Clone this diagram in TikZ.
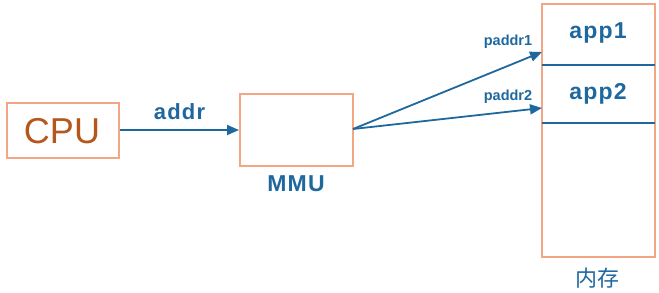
\documentclass[tikz,border=0pt]{standalone}
\usepackage{fontspec}
\setmainfont{Liberation Sans}
\newfontfamily\cjk{Noto Sans CJK SC}
\usetikzlibrary{arrows.meta}
\definecolor{boxc}{HTML}{F4A583}
\definecolor{bluec}{HTML}{1F689E}
\definecolor{cpuc}{HTML}{B5561C}
\newcommand{\lsp}{\kern1.2pt}
\begin{document}
\begin{tikzpicture}[x=1pt,y=-1pt,
  box/.style={draw=boxc,line width=2pt,inner sep=0pt,fill=white},
  lbl/.style={text=bluec,font=\bfseries,inner sep=0pt},
  arr/.style={draw=bluec,line width=1.8pt,-{Triangle[length=12pt,width=10pt]}},
  div/.style={draw=bluec,line width=2pt}]
\useasboundingbox (0,0) rectangle (659,292);
\node[box,minimum width=112pt,minimum height=55pt] (cpu) at (63,130) {};
\node[text=cpuc,font=\fontsize{36}{40}\selectfont,inner sep=0pt] (cputxt) at (62,131) {CPU};
\node[box,minimum width=113pt,minimum height=72pt] (mmu) at (296.5,130) {};
\node[lbl,font=\bfseries\fontsize{23}{26}\selectfont] (mmutxt) at (296,184) {M\lsp M\lsp U};
\node[box,minimum width=113pt,minimum height=253pt] (mem) at (598.5,130.5) {};
\coordinate (d1l) at (542,65); \coordinate (d1r) at (655,65);
\coordinate (d2l) at (542,123); \coordinate (d2r) at (655,123);
\draw[div] (d1l) -- (d1r);
\draw[div] (d2l) -- (d2r);
\node[lbl,font=\bfseries\fontsize{23}{26}\selectfont] (app1) at (598,33) {a\lsp p\lsp p\lsp 1};
\node[lbl,font=\bfseries\fontsize{23}{26}\selectfont] (app2) at (598,94) {a\lsp p\lsp p\lsp 2};
\node[text=bluec,font=\cjk\fontsize{22}{24}\selectfont,inner sep=0pt] (memtxt) at (597,278) {内存};
\coordinate (t1) at (542,52);
\coordinate (t2) at (542,108);
\coordinate (s) at (353,129);
\draw[arr] (cpu.east) -- (mmu.west) node[lbl,midway,above=9pt,font=\bfseries\fontsize{22}{24}\selectfont] (addr) {a\lsp d\lsp d\lsp r};
\draw[arr] (s) -- (t1);
\draw[arr] (s) -- (t2);
\node[lbl,font=\bfseries\fontsize{14.5}{16}\selectfont] (p1) at (508,42) {paddr1};
\node[lbl,font=\bfseries\fontsize{14.5}{16}\selectfont] (p2) at (508,97) {paddr2};
\end{tikzpicture}
\end{document}
